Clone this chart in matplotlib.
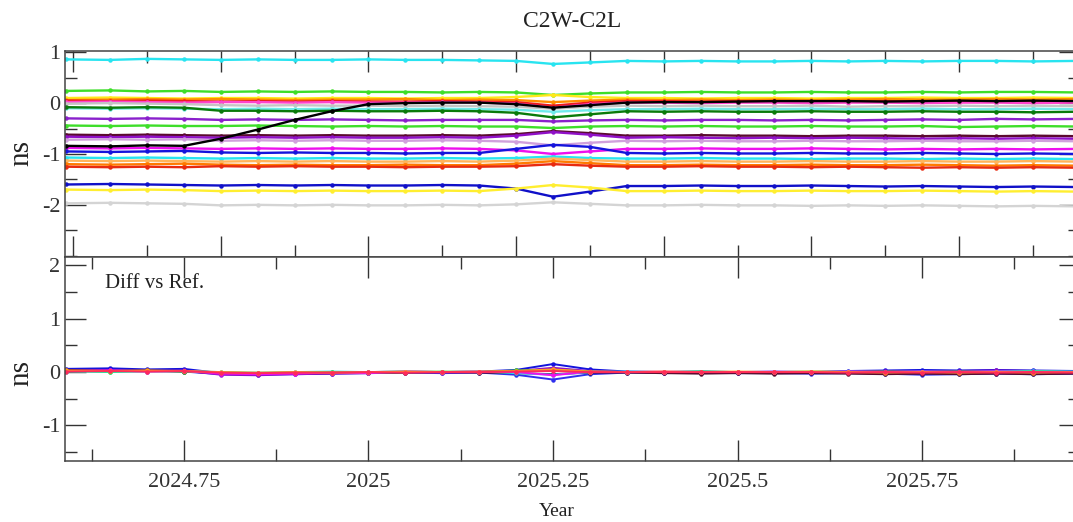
import matplotlib
matplotlib.use("Agg")
import matplotlib.pyplot as plt
from matplotlib.ticker import MultipleLocator

plt.rcParams["font.family"] = ["Liberation Serif", "DejaVu Serif"]
plt.rcParams["axes.unicode_minus"] = False

# ----------------------------
# Data
# ----------------------------
YEARS = [2024.59, 2024.65, 2024.70, 2024.75, 2024.80, 2024.85, 2024.90,
         2024.95, 2025.00, 2025.05, 2025.10, 2025.15, 2025.20, 2025.25,
         2025.30, 2025.35, 2025.40, 2025.45, 2025.50, 2025.55, 2025.60,
         2025.65, 2025.70, 2025.75, 2025.80, 2025.85, 2025.90, 2025.96]

# C2W-C2L per receiver [ns]
cyan_a = [0.86, 0.85, 0.87, 0.86, 0.85, 0.86, 0.85, 0.85, 0.86, 0.85, 0.85, 0.84, 0.83, 0.77,
          0.80, 0.83, 0.82, 0.83, 0.82, 0.82, 0.83, 0.82, 0.83, 0.82, 0.83, 0.83, 0.82, 0.83]
lime_a = [0.24, 0.25, 0.23, 0.24, 0.22, 0.23, 0.22, 0.23, 0.22, 0.22, 0.21, 0.22, 0.21, 0.16,
          0.19, 0.21, 0.21, 0.22, 0.21, 0.21, 0.22, 0.21, 0.21, 0.22, 0.21, 0.22, 0.22, 0.21]
yellow_a = [0.10, 0.11, 0.10, 0.09, 0.10, 0.10, 0.09, 0.10, 0.10, 0.09, 0.10, 0.10, 0.12, 0.16,
            0.12, 0.10, 0.10, 0.09, 0.10, 0.10, 0.09, 0.10, 0.10, 0.11, 0.10, 0.10, 0.11, 0.10]
orange_a = [0.06, 0.07, 0.08, 0.07, 0.08, 0.07, 0.06, 0.07, 0.07, 0.08, 0.06, 0.07, 0.06, 0.02,
            0.05, 0.07, 0.06, 0.07, 0.06, 0.07, 0.06, 0.07, 0.08, 0.07, 0.07, 0.08, 0.07, 0.08]
red_a = [0.05, 0.04, 0.05, 0.04, 0.03, 0.04, 0.03, 0.04, 0.03, 0.03, 0.04, 0.03, 0.02, -0.05,
         0.01, 0.04, 0.04, 0.03, 0.04, 0.04, 0.03, 0.04, 0.04, 0.03, 0.04, 0.04, 0.03, 0.04]
pink_a = [0.02, 0.03, 0.02, 0.01, 0.02, 0.02, 0.01, 0.02, 0.01, 0.01, 0.02, 0.01, -0.01, -0.09,
          -0.02, 0.01, 0.01, 0.00, 0.01, 0.01, 0.00, 0.01, 0.01, 0.00, 0.01, 0.01, 0.00, 0.01]
gray_a = [-0.01, 0.00, -0.01, -0.02, -0.04, -0.05, -0.04, -0.05, -0.05, -0.06, -0.05, -0.06, -0.07, -0.11,
          -0.07, -0.05, -0.06, -0.05, -0.06, -0.06, -0.05, -0.07, -0.06, -0.06, -0.05, -0.06, -0.05, -0.06]
black_a = [-0.84, -0.85, -0.83, -0.84, -0.70, -0.52, -0.33, -0.16, -0.02, 0.00, 0.01, 0.01, -0.02, -0.09,
           -0.04, 0.01, 0.02, 0.02, 0.03, 0.04, 0.04, 0.04, 0.03, 0.04, 0.05, 0.04, 0.05, 0.04]
cyan_b = [-0.10, -0.11, -0.10, -0.11, -0.12, -0.11, -0.12, -0.11, -0.12, -0.12, -0.11, -0.12, -0.13, -0.17,
          -0.14, -0.12, -0.12, -0.11, -0.12, -0.12, -0.11, -0.12, -0.12, -0.11, -0.12, -0.12, -0.11, -0.12]
dkgreen_a = [-0.08, -0.09, -0.08, -0.09, -0.15, -0.15, -0.16, -0.15, -0.16, -0.16, -0.15, -0.16, -0.19, -0.28,
             -0.22, -0.16, -0.17, -0.16, -0.17, -0.17, -0.16, -0.17, -0.17, -0.16, -0.17, -0.17, -0.18, -0.17]
violet_a = [-0.30, -0.31, -0.30, -0.31, -0.33, -0.32, -0.33, -0.32, -0.33, -0.34, -0.33, -0.33, -0.33, -0.36,
            -0.34, -0.33, -0.34, -0.33, -0.33, -0.34, -0.33, -0.34, -0.33, -0.32, -0.33, -0.31, -0.32, -0.31]
lime_b = [-0.44, -0.45, -0.44, -0.45, -0.45, -0.44, -0.45, -0.46, -0.45, -0.46, -0.45, -0.46, -0.46, -0.49,
          -0.46, -0.45, -0.46, -0.45, -0.46, -0.46, -0.45, -0.46, -0.46, -0.45, -0.47, -0.46, -0.45, -0.46]
maroon_a = [-0.62, -0.63, -0.62, -0.63, -0.64, -0.63, -0.64, -0.63, -0.64, -0.64, -0.63, -0.64, -0.61, -0.55,
            -0.59, -0.64, -0.64, -0.63, -0.64, -0.64, -0.65, -0.64, -0.64, -0.65, -0.64, -0.65, -0.64, -0.65]
purple_a = [-0.66, -0.67, -0.66, -0.67, -0.68, -0.67, -0.68, -0.67, -0.68, -0.68, -0.67, -0.68, -0.64, -0.57,
            -0.62, -0.68, -0.67, -0.68, -0.69, -0.68, -0.69, -0.68, -0.69, -0.70, -0.69, -0.70, -0.69, -0.70]
plum_a = [-0.72, -0.71, -0.72, -0.71, -0.74, -0.73, -0.74, -0.73, -0.74, -0.74, -0.73, -0.74, -0.76, -0.83,
          -0.78, -0.74, -0.75, -0.74, -0.75, -0.75, -0.74, -0.75, -0.75, -0.74, -0.75, -0.75, -0.74, -0.75]
magenta_a = [-0.88, -0.89, -0.88, -0.89, -0.90, -0.89, -0.90, -0.89, -0.90, -0.90, -0.89, -0.90, -0.93, -1.00,
             -0.95, -0.90, -0.90, -0.89, -0.90, -0.90, -0.89, -0.90, -0.91, -0.90, -0.91, -0.90, -0.91, -0.90]
blue_a = [-0.95, -0.96, -0.95, -0.94, -0.97, -0.98, -0.97, -0.98, -0.98, -0.99, -0.98, -0.98, -0.90, -0.82,
          -0.86, -0.98, -0.99, -0.98, -0.99, -0.99, -0.98, -0.99, -0.99, -0.98, -0.99, -1.00, -0.99, -1.00]
cyan_c = [-1.07, -1.08, -1.07, -1.08, -1.09, -1.08, -1.09, -1.08, -1.09, -1.09, -1.08, -1.09, -1.08, -1.05,
          -1.08, -1.09, -1.09, -1.08, -1.09, -1.09, -1.10, -1.09, -1.09, -1.10, -1.09, -1.10, -1.09, -1.10]
ltorange_a = [-1.13, -1.14, -1.13, -1.14, -1.15, -1.14, -1.15, -1.14, -1.15, -1.15, -1.14, -1.15, -1.13, -1.09,
              -1.12, -1.15, -1.15, -1.14, -1.15, -1.15, -1.14, -1.15, -1.15, -1.14, -1.15, -1.15, -1.14, -1.15]
orange_b = [-1.20, -1.21, -1.20, -1.19, -1.21, -1.22, -1.21, -1.22, -1.22, -1.21, -1.22, -1.22, -1.19, -1.14,
            -1.18, -1.22, -1.22, -1.21, -1.22, -1.22, -1.21, -1.22, -1.22, -1.21, -1.22, -1.23, -1.22, -1.23]
red_b = [-1.25, -1.26, -1.25, -1.26, -1.24, -1.25, -1.24, -1.25, -1.25, -1.26, -1.25, -1.25, -1.24, -1.20,
         -1.23, -1.25, -1.25, -1.24, -1.25, -1.25, -1.26, -1.25, -1.26, -1.27, -1.26, -1.27, -1.26, -1.27]
blue_b = [-1.60, -1.59, -1.60, -1.61, -1.62, -1.61, -1.62, -1.61, -1.62, -1.62, -1.61, -1.62, -1.68, -1.84,
          -1.74, -1.63, -1.63, -1.62, -1.63, -1.63, -1.62, -1.63, -1.64, -1.63, -1.64, -1.65, -1.64, -1.65]
yellow_b = [-1.70, -1.71, -1.70, -1.71, -1.73, -1.72, -1.73, -1.72, -1.73, -1.73, -1.72, -1.73, -1.68, -1.61,
            -1.66, -1.73, -1.73, -1.72, -1.73, -1.73, -1.72, -1.73, -1.73, -1.72, -1.73, -1.74, -1.73, -1.74]
ltgray_a = [-1.97, -1.96, -1.97, -1.98, -2.01, -2.00, -2.01, -2.00, -2.01, -2.01, -2.00, -2.01, -1.99, -1.95,
            -1.98, -2.01, -2.01, -2.00, -2.01, -2.01, -2.02, -2.01, -2.02, -2.01, -2.02, -2.03, -2.02, -2.03]

TOP_SERIES = [cyan_a, lime_a, yellow_a, orange_a, red_a, pink_a, gray_a, cyan_b,
              dkgreen_a, violet_a, lime_b, maroon_a, purple_a, plum_a, magenta_a,
              blue_a, cyan_c, ltorange_a, orange_b, red_b, blue_b, yellow_b, ltgray_a,
              black_a]
TOP_COLORS = ["#28e4f0", "#3ede2a", "#ffe81a", "#ff8c00", "#ee1c1c", "#ff44cc", "#c4c4c4", "#70eaea",
              "#0a7a0a", "#8a20cc", "#3ede2a", "#5a0a2e", "#9010c8", "#d0a0dc", "#ee10ee",
              "#1414dc", "#28e4f0", "#ffb45a", "#ff7a00", "#e82a10", "#1010c8", "#ffee30", "#d4d4d4",
              "#000000"]

# Diff vs Ref. [ns]
d_blue_hi = [0.06, 0.07, 0.05, 0.06, -0.02, -0.03, -0.02, -0.01, 0.00, 0.01, 0.00, 0.01, 0.04, 0.15,
             0.05, 0.01, 0.00, 0.01, 0.00, -0.01, 0.00, 0.02, 0.03, 0.04, 0.03, 0.04, 0.03, 0.02]
d_blue_lo = [0.02, 0.03, 0.02, 0.01, -0.04, -0.05, -0.04, -0.03, -0.02, -0.01, -0.02, -0.01, -0.05, -0.14,
             -0.04, -0.01, -0.02, -0.01, -0.02, -0.02, -0.03, -0.02, -0.03, -0.05, -0.04, -0.03, -0.04, -0.03]
d_violet = [0.03, 0.04, 0.02, 0.03, -0.05, -0.06, -0.04, -0.03, -0.02, 0.00, -0.01, 0.00, 0.02, 0.08,
            0.02, 0.00, -0.01, 0.00, -0.01, 0.00, -0.02, 0.01, 0.02, 0.01, 0.02, 0.03, 0.02, 0.01]
d_maroon = [0.04, 0.02, 0.03, 0.01, -0.02, -0.03, -0.02, -0.02, -0.01, -0.01, 0.00, -0.01, -0.02, -0.04,
            -0.01, -0.01, -0.02, -0.03, -0.02, -0.03, -0.02, -0.03, -0.04, -0.03, -0.04, -0.03, -0.04, -0.03]
d_cyan = [0.01, 0.00, 0.01, 0.02, 0.00, -0.01, 0.00, 0.01, 0.00, 0.01, 0.00, 0.01, -0.02, -0.05,
          0.00, 0.01, 0.00, 0.01, 0.00, 0.01, 0.00, 0.01, 0.00, 0.01, 0.00, 0.01, 0.02, 0.01]
d_lime = [0.02, 0.01, 0.02, 0.01, -0.01, -0.02, -0.01, 0.00, -0.01, 0.00, 0.01, 0.00, 0.03, 0.04,
          0.01, 0.00, 0.00, 0.01, 0.00, 0.00, 0.01, 0.00, 0.01, 0.00, 0.01, 0.00, 0.01, 0.00]
d_magenta = [0.02, 0.03, 0.01, 0.02, -0.03, -0.04, -0.03, -0.01, -0.02, 0.01, 0.00, 0.01, 0.00, -0.06,
             0.01, 0.00, 0.01, 0.00, 0.00, 0.01, 0.00, 0.01, 0.00, 0.01, 0.00, 0.01, 0.00, 0.00]
d_orange = [0.03, 0.02, 0.03, 0.02, 0.00, -0.01, 0.00, -0.01, 0.00, 0.01, 0.00, 0.01, 0.02, 0.05,
            0.01, 0.00, 0.01, 0.00, 0.01, 0.00, 0.01, 0.00, -0.01, 0.00, -0.01, 0.00, -0.01, 0.00]
d_red = [0.01, 0.02, 0.01, 0.02, -0.01, -0.02, -0.01, -0.01, 0.00, -0.01, 0.00, 0.00, 0.01, 0.02,
         0.00, 0.00, 0.00, 0.00, 0.00, 0.00, 0.00, -0.01, 0.00, -0.01, 0.00, -0.01, 0.00, -0.01]

BOT_SERIES = [d_blue_hi, d_blue_lo, d_violet, d_maroon, d_cyan, d_lime, d_magenta, d_orange, d_red]
BOT_COLORS = ["#1414dc", "#3030ee", "#9010c8", "#5a0a2e", "#28e4f0", "#3ede2a", "#ee10ee", "#ffa020",
              "#ff2a5a"]

TOP_YTICKS = [-2, -1, 0, 1]
BOT_YTICKS = [-1, 0, 1, 2]
XTICKS = [2024.75, 2025.0, 2025.25, 2025.5, 2025.75]
XTICK_LABELS = ["2024.75", "2025", "2025.25", "2025.5", "2025.75"]


def style_axis(ax):
    ax.tick_params(which="both", direction="in", top=True, right=True,
                   width=1.0, colors="#333333", labelcolor="#333333", labelsize=16)
    ax.tick_params(which="major", length=15)
    ax.tick_params(which="minor", length=8.5)
    for sp in ax.spines.values():
        sp.set_linewidth(1.1)
        sp.set_color("#444444")


def main():
    fig = plt.figure(figsize=(10.73, 5.22), dpi=100)
    ax1 = fig.add_axes([0.0606, 0.5082, 0.9460, 0.3946])
    ax2 = fig.add_axes([0.0606, 0.1174, 0.9460, 0.3908])

    for vals, col in zip(TOP_SERIES, TOP_COLORS):
        ax1.plot(YEARS, vals, color=col, lw=1.7, marker="o", ms=2.2)
    for vals, col in zip(BOT_SERIES, BOT_COLORS):
        ax2.plot(YEARS, vals, color=col, lw=1.4, marker="o", ms=2.2)

    for ax in (ax1, ax2):
        ax.set_xlim(2024.589, 2025.964)
        style_axis(ax)

    # top panel: unlabeled x ticks every 0.2 yr
    ax1.xaxis.set_major_locator(MultipleLocator(0.2))
    ax1.xaxis.set_minor_locator(MultipleLocator(0.1))
    ax1.tick_params(axis="x", labelbottom=False)
    ax1.set_ylim(-3.02, 1.03)
    ax1.set_yticks(TOP_YTICKS)
    ax1.yaxis.set_minor_locator(MultipleLocator(0.5))

    ax2.set_xticks(XTICKS)
    ax2.set_xticklabels(XTICK_LABELS)
    ax2.xaxis.set_minor_locator(MultipleLocator(0.125))
    ax2.set_ylim(-1.66, 2.16)
    ax2.set_yticks(BOT_YTICKS)
    ax2.yaxis.set_minor_locator(MultipleLocator(0.5))
    ax2.tick_params(axis="x", pad=9)

    fig.text(0.533, 0.958, "C2W-C2L", ha="center", va="center", fontsize=17, color="#222222")
    fig.text(0.020, 0.706, "ns", rotation=90, ha="center", va="center", fontsize=21, color="#222222")
    fig.text(0.020, 0.285, "ns", rotation=90, ha="center", va="center", fontsize=21, color="#222222")
    fig.text(0.519, 0.021, "Year", ha="center", va="center", fontsize=14, color="#222222")
    ax2.text(0.039, 0.87, "Diff vs Ref.", transform=ax2.transAxes, ha="left", va="center",
             fontsize=15, color="#222222")

    fig.savefig("out.png", dpi=100)


if __name__ == "__main__":
    main()
